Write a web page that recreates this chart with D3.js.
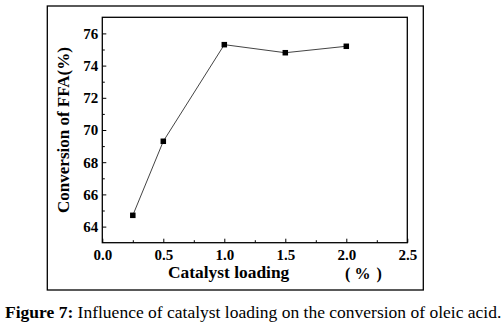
<!DOCTYPE html>
<html>
<head>
<meta charset="utf-8">
<script src="https://cdn.jsdelivr.net/npm/d3@7"></script>
<style>
  html, body { margin: 0; padding: 0; background: #fff; }
  svg { display: block; }
</style>
</head>
<body>
<svg id="chart" width="501" height="327"></svg>
<script>
// Catalyst loading (%) vs. FFA conversion (%)
const loading = [0.25, 0.5, 1.0, 1.5, 2.0];
const conversion = [64.7, 69.3, 75.3, 74.8, 75.2];

const xTicks = [0.0, 0.5, 1.0, 1.5, 2.0, 2.5];
const xMinor = [0.25, 0.75, 1.25, 1.75, 2.25];
const yTicks = [64, 66, 68, 70, 72, 74, 76];
const yMinor = [65, 67, 69, 71, 73, 75];

const SERIF = "'Liberation Serif', 'Times New Roman', serif";

const svg = d3.select("#chart");

const plot = { left: 102.3, right: 407.3, top: 17.3, bottom: 242.7 };

const x = d3.scaleLinear().domain([0, 2.5]).range([plot.left, plot.right]);
const y = d3.scaleLinear().domain([63, 77]).range([plot.bottom, plot.top]);

// outer figure frame
svg.append("rect")
  .attr("x", 47.3).attr("y", 6)
  .attr("width", 376).attr("height", 284)
  .attr("fill", "none").attr("stroke", "#000").attr("stroke-width", 1.3);

// plot box
svg.append("rect")
  .attr("x", plot.left).attr("y", plot.top)
  .attr("width", plot.right - plot.left).attr("height", plot.bottom - plot.top)
  .attr("fill", "none").attr("stroke", "#000").attr("stroke-width", 1.3);

// x axis: ticks point inward
const xAxis = svg.append("g")
  .attr("transform", `translate(0,${plot.bottom})`)
  .call(d3.axisBottom(x).tickValues(xTicks).tickFormat(d3.format(".1f"))
        .tickSizeInner(-4).tickSizeOuter(0).tickPadding(7));
xAxis.select(".domain").remove();
xAxis.selectAll("text")
  .style("font-family", SERIF).style("font-size", "15px").style("font-weight", "bold")
  .attr("fill", "#000")
  .attr("dy", "0.72em");
xAxis.selectAll(".tick line").attr("stroke", "#000").attr("stroke-width", 1);

const xMinorAxis = svg.append("g")
  .attr("transform", `translate(0,${plot.bottom})`)
  .call(d3.axisBottom(x).tickValues(xMinor).tickFormat("").tickSizeInner(-2.5).tickSizeOuter(0));
xMinorAxis.select(".domain").remove();
xMinorAxis.selectAll(".tick line").attr("stroke", "#000").attr("stroke-width", 1);

// y axis: ticks point inward
const yAxis = svg.append("g")
  .attr("transform", `translate(${plot.left},0)`)
  .call(d3.axisLeft(y).tickValues(yTicks).tickFormat(d3.format("d"))
        .tickSizeInner(-4).tickSizeOuter(0).tickPadding(4));
yAxis.select(".domain").remove();
yAxis.selectAll("text")
  .style("font-family", SERIF).style("font-size", "15px").style("font-weight", "bold")
  .attr("fill", "#000");
yAxis.selectAll(".tick line").attr("stroke", "#000").attr("stroke-width", 1);

const yMinorAxis = svg.append("g")
  .attr("transform", `translate(${plot.left},0)`)
  .call(d3.axisLeft(y).tickValues(yMinor).tickFormat("").tickSizeInner(-2.5).tickSizeOuter(0));
yMinorAxis.select(".domain").remove();
yMinorAxis.selectAll(".tick line").attr("stroke", "#000").attr("stroke-width", 1);

// data line
const pts = loading.map((d, i) => [d, conversion[i]]);
svg.append("path")
  .datum(pts)
  .attr("fill", "none")
  .attr("stroke", "#444")
  .attr("stroke-width", 1)
  .attr("d", d3.line().x(d => x(d[0])).y(d => y(d[1])));

// square markers
const ms = 5.5;
svg.selectAll("rect.pt")
  .data(pts)
  .join("rect")
  .attr("class", "pt")
  .attr("x", d => x(d[0]) - ms / 2)
  .attr("y", d => y(d[1]) - ms / 2)
  .attr("width", ms).attr("height", ms)
  .attr("fill", "#000");

// axis titles
svg.append("text")
  .attr("transform", `translate(69,${(plot.top + plot.bottom) / 2}) rotate(-90)`)
  .attr("text-anchor", "middle")
  .style("font-family", SERIF).style("font-size", "17px").style("font-weight", "bold")
  .text("Conversion of FFA(%)");

svg.append("text")
  .attr("x", 168).attr("y", 278)
  .style("font-family", SERIF).style("font-size", "17.4px").style("font-weight", "bold")
  .text("Catalyst loading");

// unit label: wide-spaced parentheses around the percent sign
const unit = svg.append("text")
  .attr("y", 278.5)
  .style("font-family", SERIF).style("font-size", "16px").style("font-weight", "bold");
unit.append("tspan").attr("x", 345).text("(");
unit.append("tspan").attr("x", 354.5).text("%");
unit.append("tspan").attr("x", 376.5).text(")");

// caption
const cap = svg.append("text")
  .attr("x", 5).attr("y", 318)
  .style("font-family", SERIF).style("font-size", "17.5px");
cap.append("tspan").style("font-weight", "bold").text("Figure 7:");
cap.append("tspan").text(" Influence of catalyst loading on the conversion of oleic acid.");
</script>
</body>
</html>
